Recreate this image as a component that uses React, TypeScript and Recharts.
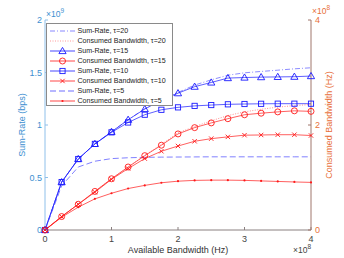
import React from "react";
import {
  ComposedChart,
  Line,
  XAxis,
  YAxis,
  Legend,
} from "recharts";

// available bandwidth (x1e8 Hz)
const bandwidth = [0, 0.25, 0.5, 0.75, 1, 1.25, 1.5, 1.75, 2, 2.25, 2.5, 2.75, 3, 3.25, 3.5, 3.75, 4];

// sum-rate (x1e9 bps)
const sumRate20 = [0, 0.456, 0.676, 0.82, 0.935, 1.05, 1.155, 1.237, 1.31, 1.38, 1.43, 1.474, 1.497, 1.51, 1.522, 1.535, 1.545];
const sumRate15 = [0, 0.456, 0.676, 0.82, 0.935, 1.05, 1.152, 1.235, 1.303, 1.365, 1.405, 1.447, 1.452, 1.456, 1.458, 1.46, 1.466];
const sumRate10 = [0, 0.456, 0.676, 0.82, 0.93, 1.024, 1.098, 1.145, 1.168, 1.182, 1.19, 1.197, 1.2, 1.202, 1.203, 1.203, 1.203];
const sumRate5 = [0, 0.42, 0.6, 0.655, 0.68, 0.688, 0.692, 0.694, 0.695, 0.696, 0.697, 0.697, 0.697, 0.697, 0.697, 0.697, 0.697];

// consumed bandwidth (x1e8 Hz)
const consumed20 = [0, 0.256, 0.49, 0.735, 0.976, 1.2, 1.42, 1.63, 1.85, 1.97, 2.08, 2.18, 2.25, 2.3, 2.34, 2.37, 2.39];
const consumed15 = [0, 0.256, 0.49, 0.735, 0.976, 1.2, 1.416, 1.615, 1.83, 1.95, 2.04, 2.12, 2.195, 2.225, 2.25, 2.27, 2.26];
const consumed10 = [0, 0.256, 0.49, 0.72, 0.965, 1.17, 1.36, 1.5, 1.6, 1.69, 1.74, 1.774, 1.806, 1.81, 1.815, 1.815, 1.8];
const consumed5 = [0, 0.243, 0.435, 0.593, 0.7, 0.79, 0.85, 0.9, 0.93, 0.945, 0.95, 0.95, 0.945, 0.935, 0.925, 0.915, 0.907];

const leftTicks = [0, 0.5, 1, 1.5, 2];
const rightTicks = [0, 2, 4];
const xTicks = [0, 1, 2, 3, 4];

const rows = bandwidth.map((b, i) => ({
  bw: b,
  sr20: sumRate20[i],
  sr15: sumRate15[i],
  sr10: sumRate10[i],
  sr5: sumRate5[i],
  cb20: consumed20[i],
  cb15: consumed15[i],
  cb10: consumed10[i],
  cb5: consumed5[i],
}));

const FONT = '"Liberation Sans", Arial, sans-serif';
const BLUE = "#1a1aff";
const RED = "#ff1a1a";
const LEFT_COLOR = "#3d8fd1";
const RIGHT_COLOR = "#e8703a";
const BOX_COLOR = "#8a8080";

type MarkerKind = "tri" | "sq" | "circ" | "x" | "dot" | "none";

const drawMarker = (kind: MarkerKind, cx: number, cy: number, color: string, key?: string) => {
  switch (kind) {
    case "tri":
      return (
        <polygon key={key} points={`${cx},${cy - 3.6} ${cx - 3.6},${cy + 2.6} ${cx + 3.6},${cy + 2.6}`}
          fill="none" stroke={color} strokeWidth={0.9} />
      );
    case "sq":
      return <rect key={key} x={cx - 2.6} y={cy - 2.6} width={5.2} height={5.2} fill="none" stroke={color} strokeWidth={0.9} />;
    case "circ":
      return <circle key={key} cx={cx} cy={cy} r={3} fill="none" stroke={color} strokeWidth={0.9} />;
    case "x":
      return (
        <path key={key} d={`M${cx - 2.2},${cy - 2.2}L${cx + 2.2},${cy + 2.2}M${cx - 2.2},${cy + 2.2}L${cx + 2.2},${cy - 2.2}`}
          stroke={color} strokeWidth={0.9} />
      );
    case "dot":
      return <circle key={key} cx={cx} cy={cy} r={1.1} fill={color} />;
    default:
      return <g key={key} />;
  }
};

const markerDot = (kind: MarkerKind, color: string) => (props: any) =>
  drawMarker(kind, props.cx, props.cy, color, `${kind}-${props.index}`);

const legendItems: { label: string; color: string; dash?: string; marker: MarkerKind }[] = [
  { label: "Sum-Rate, \u03c4=20", color: "#6a6aff", dash: "5 2 1 2", marker: "none" },
  { label: "Consumed Bandwidth, \u03c4=20", color: "#ff8080", dash: "1 1.5", marker: "none" },
  { label: "Sum-Rate, \u03c4=15", color: BLUE, marker: "tri" },
  { label: "Consumed Bandwidth, \u03c4=15", color: RED, marker: "circ" },
  { label: "Sum-Rate, \u03c4=10", color: BLUE, marker: "sq" },
  { label: "Consumed Bandwidth, \u03c4=10", color: RED, marker: "x" },
  { label: "Sum-Rate, \u03c4=5", color: "#4a4aff", dash: "6 3", marker: "none" },
  { label: "Consumed Bandwidth, \u03c4=5", color: RED, marker: "dot" },
];

const renderLegend = () => (
  <div
    style={{
      border: "0.8px solid #8a8a8a",
      background: "#fff",
      padding: "2px 0 2px 3px",
      fontFamily: FONT,
      fontSize: 7.1,
      color: "#222",
      boxSizing: "border-box",
      width: 127,
      height: 83,
    }}
  >
    {legendItems.map((it) => (
      <div key={it.label} style={{ display: "flex", alignItems: "center", height: 10 }}>
        <svg width={26} height={10} style={{ flex: "none" }}>
          <line x1={0} y1={5} x2={25} y2={5} stroke={it.color} strokeWidth={0.8} strokeDasharray={it.dash} />
          {drawMarker(it.marker, 12.5, 5, it.color)}
        </svg>
        <span style={{ marginLeft: 2, whiteSpace: "nowrap" }}>{it.label}</span>
      </div>
    ))}
  </div>
);

const Exponent = ({ base, exp, color, left, top }: { base: string; exp: string; color: string; left: number; top: number }) => (
  <div style={{ position: "absolute", left, top, fontFamily: FONT, fontSize: 8.5, color, whiteSpace: "nowrap", lineHeight: 1 }}>
    {base}
    <span style={{ fontSize: 6.5, position: "relative", top: -4 }}>{exp}</span>
  </div>
);

export default function App() {
  return (
    <div style={{ position: "absolute", left: 0, top: 0, width: 344, height: 258, background: "#fff" }}>
      <ComposedChart
        width={344}
        height={258}
        data={rows}
        margin={{ top: 20, right: 0, bottom: 0, left: 0 }}
        style={{ fontFamily: FONT }}
      >
        <XAxis
          xAxisId="bottom"
          dataKey="bw"
          type="number"
          domain={[0, 4]}
          ticks={xTicks}
          height={28}
          tickSize={-3}
          tickMargin={9}
          stroke={BOX_COLOR}
          tick={{ fill: "#444", fontSize: 9 }}
          label={{ value: "Available Bandwidth (Hz)", position: "insideBottom", offset: 5, fill: "#333", fontSize: 9 }}
        />
        <XAxis
          xAxisId="top"
          orientation="top"
          type="number"
          domain={[0, 4]}
          ticks={xTicks}
          height={0}
          tickSize={-3}
          tick={false}
          stroke={BOX_COLOR}
        />
        <YAxis
          yAxisId="left"
          type="number"
          domain={[0, 2]}
          ticks={leftTicks}
          width={45}
          tickSize={-3}
          tickMargin={6}
          stroke="#8fc0ea"
          tick={{ fill: LEFT_COLOR, fontSize: 9 }}
          label={{ value: "Sum-Rate (bps)", angle: -90, position: "center", dx: -1, fill: LEFT_COLOR, fontSize: 9 }}
        />
        <YAxis
          yAxisId="right"
          orientation="right"
          type="number"
          domain={[0, 4]}
          ticks={rightTicks}
          width={33}
          tickSize={-3}
          tickMargin={7}
          stroke="#a0766c"
          tick={{ fill: RIGHT_COLOR, fontSize: 9 }}
          label={{ value: "Consumed Bandwidth (Hz)", angle: -90, position: "center", dx: 1, fill: RIGHT_COLOR, fontSize: 9 }}
        />

        <Line xAxisId="bottom" yAxisId="left" dataKey="sr20" stroke="#5a5aff" strokeWidth={0.7} strokeDasharray="5 2 1 2" dot={false} isAnimationActive={false} />
        <Line xAxisId="bottom" yAxisId="left" dataKey="sr15" stroke={BLUE} strokeWidth={0.7} dot={markerDot("tri", BLUE)} isAnimationActive={false} />
        <Line xAxisId="bottom" yAxisId="left" dataKey="sr10" stroke={BLUE} strokeWidth={0.7} dot={markerDot("sq", BLUE)} isAnimationActive={false} />
        <Line xAxisId="bottom" yAxisId="left" dataKey="sr5" stroke="#4a4aff" strokeWidth={0.7} strokeDasharray="6 3" dot={false} isAnimationActive={false} />

        <Line xAxisId="bottom" yAxisId="right" dataKey="cb20" stroke="#ff6060" strokeWidth={0.7} strokeDasharray="1 1.5" dot={false} isAnimationActive={false} />
        <Line xAxisId="bottom" yAxisId="right" dataKey="cb15" stroke={RED} strokeWidth={0.7} dot={markerDot("circ", RED)} isAnimationActive={false} />
        <Line xAxisId="bottom" yAxisId="right" dataKey="cb10" stroke={RED} strokeWidth={0.7} dot={markerDot("x", RED)} isAnimationActive={false} />
        <Line xAxisId="bottom" yAxisId="right" dataKey="cb5" stroke={RED} strokeWidth={0.7} dot={markerDot("dot", RED)} isAnimationActive={false} />

        <Legend
          layout="vertical"
          align="center"
          verticalAlign="middle"
          content={renderLegend}
          wrapperStyle={{ left: 45.5, top: 23, width: 127, height: 83 }}
        />
      </ComposedChart>
      <Exponent base={"\u00d710"} exp="9" color={LEFT_COLOR} left={46} top={10} />
      <Exponent base={"\u00d710"} exp="8" color={RIGHT_COLOR} left={312} top={7} />
      <Exponent base={"\u00d710"} exp="8" color="#444" left={293} top={246} />
    </div>
  );
}
